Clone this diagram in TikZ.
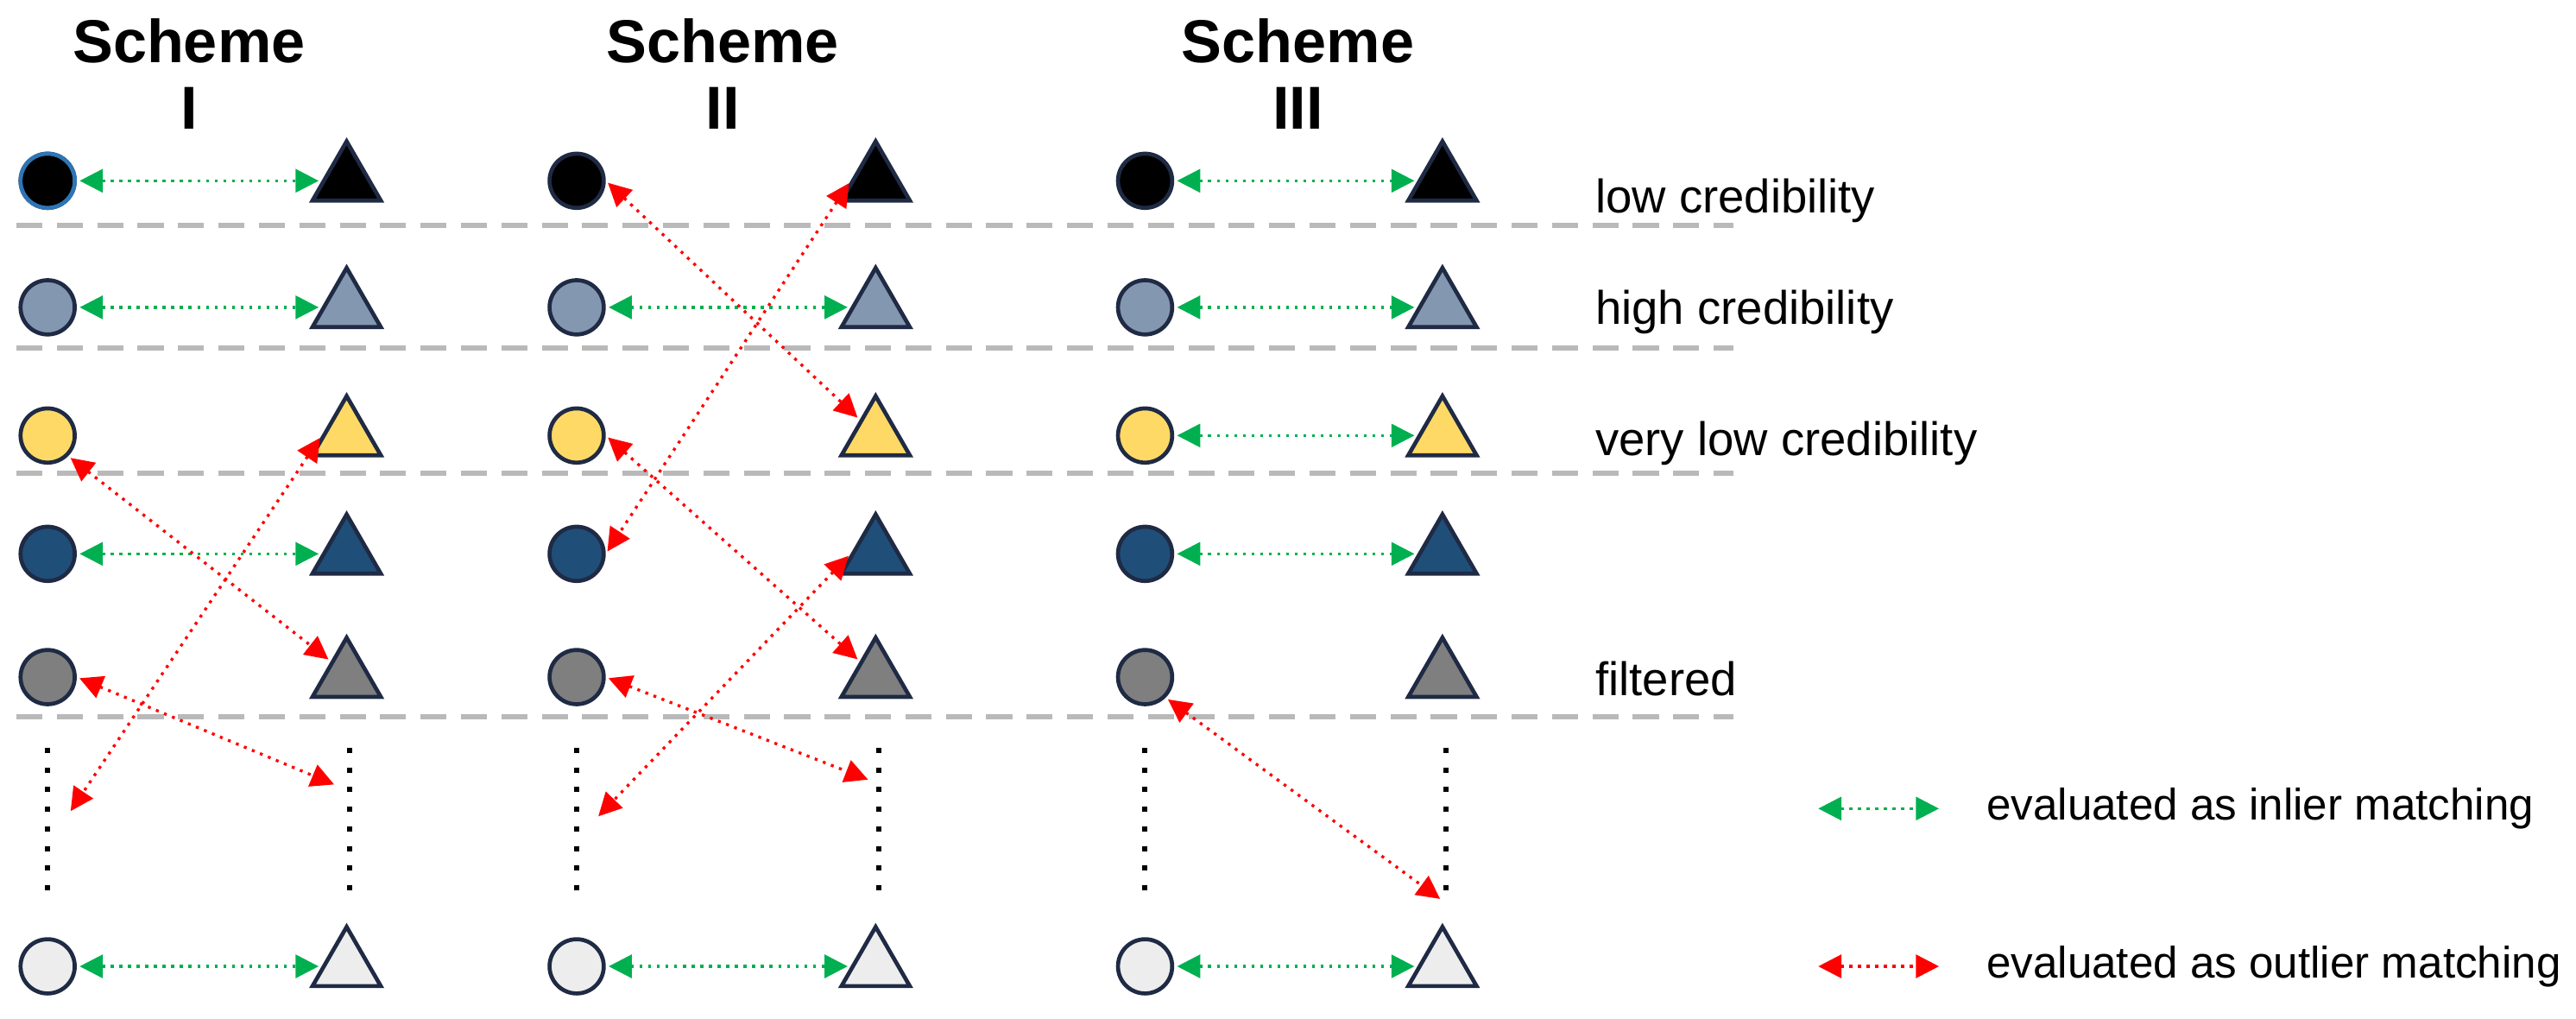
\documentclass[tikz,border=0pt]{standalone}
\usepackage{fontspec}
\setmainfont{Liberation Sans}
\usetikzlibrary{arrows.meta,shapes.geometric}
\definecolor{navy}{HTML}{1F2A44}
\definecolor{c1}{HTML}{000000}
\definecolor{c2}{HTML}{8497B0}
\definecolor{c3}{HTML}{FFD966}
\definecolor{c4}{HTML}{1F4E79}
\definecolor{c5}{HTML}{7F7F7F}
\definecolor{c6}{HTML}{EDEDED}
\definecolor{gr}{HTML}{00B050}
\definecolor{rd}{HTML}{FF0000}
\begin{document}
\begin{tikzpicture}[x=0.02cm,y=-0.02cm,
  circ/.style={circle,draw=navy,line width=1.4pt,minimum size=0.66cm,inner sep=0},
  tri/.style={isosceles triangle,isosceles triangle apex angle=60,shape border rotate=90,draw=navy,line width=1.4pt,minimum height=0.72cm,inner sep=0},
  ga/.style={gr,dotted,line width=1pt,{Triangle[length=8pt,width=8pt]}-{Triangle[length=8pt,width=8pt]},shorten <=1pt,shorten >=1pt},
  ra/.style={rd,dotted,line width=1pt,{Triangle[length=8pt,width=8pt]}-{Triangle[length=8pt,width=8pt]},shorten <=1pt,shorten >=1pt},
  sep/.style={gray!55,dashed,line width=1.8pt,dash pattern=on 9pt off 5pt},
  vd/.style={black,line width=1.8pt,dash pattern=on 1.8pt off 5pt},
  title/.style={font=\fontsize{21}{23}\selectfont\bfseries,align=center},
  lab/.style={font=\fontsize{16.3}{18}\selectfont,anchor=west},
  leg/.style={font=\fontsize{15.3}{18}\selectfont,anchor=west}]
\useasboundingbox (0,0) rectangle (1568,620);
\foreach \y in {137,212,288,436} \draw[sep] (10,\y) -- (1055,\y);
\node[title] at (115,45) {Scheme\\I};
\node[title] at (440,45) {Scheme\\II};
\node[title] at (790,45) {Scheme\\III};
\foreach \s/\cx/\tx in {a/29/211,b/351/533,c/697/878}{
  \foreach \r/\y/\col in {1/110/c1,2/187/c2,3/265/c3,4/337/c4,5/412/c5,6/588/c6}{
    \node[circ,fill=\col] (c\s\r) at (\cx,\y) {};
    \node[tri,fill=\col] (t\s\r) at (\tx,\y) {};
  }
  \draw[vd] (\cx,455) -- (\cx,550);
  \draw[vd] (\tx+2,455) -- (\tx+2,550);
}
\node[circ,fill=black,draw={rgb,255:red,46;green,117;blue,182}] at (29,110) {};
\coordinate (la) at (42,495); \coordinate (ra) at (205,478);
\coordinate (lb) at (363,498); \coordinate (rb) at (530,475);
\coordinate (rc) at (878,548);
% green
\foreach \s/\r in {a/1,a/2,a/4,a/6,b/2,b/6,c/1,c/2,c/3,c/4,c/6}
  \draw[ga] (c\s\r.east) -- (t\s\r.west);
% red
\draw[ra] (ca3.south east) -- (ta5.north west);
\draw[ra] (ta3.west) -- (la);
\draw[ra] (ca5.east) -- (ra);
\draw[ra] (cb1.east) -- (tb3.north west);
\draw[ra] (tb1.west) -- (cb4.east);
\draw[ra] (cb3.east) -- (tb5.north west);
\draw[ra] (tb4.west) -- (lb);
\draw[ra] (cb5.east) -- (rb);
\draw[ra] (cc5.south east) -- (rc);
\node[lab] at (965,122) {low credibility};
\node[lab] at (965,190) {high credibility};
\node[lab] at (965,270) {very low credibility};
\node[lab] at (965,413) {filtered};
\coordinate (g1) at (1105,492); \coordinate (g2) at (1182,492);
\draw[ga] (g1) -- (g2);
\coordinate (r1) at (1105,588); \coordinate (r2) at (1182,588);
\draw[ra] (r1) -- (r2);
\node[leg] at (1203,492) {evaluated as inlier matching};
\node[leg] at (1203,588) {evaluated as outlier matching};
\end{tikzpicture}
\end{document}
